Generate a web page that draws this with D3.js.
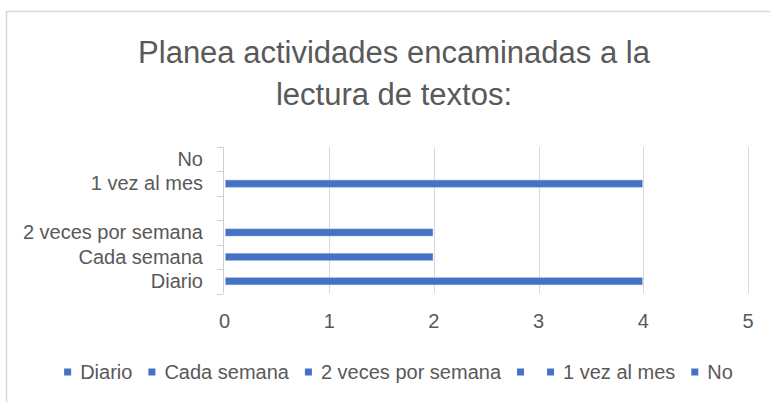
<!DOCTYPE html>
<html>
<head>
<meta charset="utf-8">
<script src="https://cdn.jsdelivr.net/npm/d3@7"></script>
<style>
  body { margin: 0; background: #fff; }
  svg { display: block; }
</style>
</head>
<body>
<svg id="chart" width="770" height="402"></svg>
<script>

var categories = ['Diario', 'Cada semana', '2 veces por semana', '', '1 vez al mes', 'No'];
var values = [4, 2, 2, 0, 4, 0];
var xTicks = [0, 1, 2, 3, 4, 5];
var titleLines = ['Planea actividades encaminadas a la', 'lectura de textos:'];

var width = 770, height = 402;
var textColor = '#595959';
var barColor = '#4472c4';
var font = '"Liberation Sans", Arial, sans-serif';

var svg = d3.select('#chart');

// chart frame
svg.append('rect')
  .attr('x', 6.5)
  .attr('y', 11.5)
  .attr('width', 790)
  .attr('height', 420)
  .attr('fill', '#fff')
  .attr('stroke', '#d9d9d9')
  .attr('stroke-width', 1.5);

// title
svg.append('g')
    .attr('text-anchor', 'middle')
    .attr('fill', textColor)
    .style('font', '31px ' + font)
  .selectAll('text')
  .data(titleLines)
  .enter().append('text')
    .attr('x', 394)
    .attr('y', (d, i) => 63 + i * 42)
    .text(d => d);

var x = d3.scaleLinear()
  .domain([0, 5])
  .range([224.5, 748]);

var y = d3.scaleBand()
  .domain(categories)
  .range([293.5, 147])
  .paddingInner(0.71)
  .paddingOuter(0.355);

var step = y.step();

// gridlines
svg.append('g')
  .selectAll('line')
  .data(xTicks.filter(d => d > 0))
  .enter().append('line')
    .attr('x1', d => Math.round(x(d)) + 0.5)
    .attr('x2', d => Math.round(x(d)) + 0.5)
    .attr('y1', 147)
    .attr('y2', 293.5)
    .attr('stroke', '#d9d9d9')
    .attr('stroke-width', 1);

// category axis line + ticks
var axisG = svg.append('g')
  .attr('stroke', '#d0d0d0')
  .attr('stroke-width', 1);

axisG.append('line')
  .attr('x1', 223.5).attr('x2', 223.5)
  .attr('y1', 147).attr('y2', 293.5);

var tickYs = categories.map(c => y(c) - (step - y.bandwidth()) / 2);
tickYs.push(293.5);

axisG.selectAll('line.tick')
  .data(tickYs)
  .enter().append('line')
    .attr('class', 'tick')
    .attr('x1', 217).attr('x2', 223.5)
    .attr('y1', d => Math.round(d) + 0.5)
    .attr('y2', d => Math.round(d) + 0.5);

// bars
svg.append('g')
  .selectAll('rect')
  .data(values)
  .enter().append('rect')
    .attr('x', x(0) + 1)
    .attr('y', (d, i) => y(categories[i]))
    .attr('width', d => Math.max(0, x(d) - x(0) - 2))
    .attr('height', y.bandwidth())
    .attr('fill', barColor)
    .attr('stroke', '#8faadc')
    .attr('stroke-width', 0.5)
    .style('display', d => d > 0 ? null : 'none');

// category labels
svg.append('g')
    .attr('text-anchor', 'end')
    .attr('fill', textColor)
    .style('font', '20px ' + font)
  .selectAll('text')
  .data(categories)
  .enter().append('text')
    .attr('x', 203)
    .attr('y', d => y(d) + y.bandwidth() / 2)
    .attr('dy', '0.34em')
    .text(d => d);

// value labels
svg.append('g')
    .attr('text-anchor', 'middle')
    .attr('fill', textColor)
    .style('font', '20px ' + font)
  .selectAll('text')
  .data(xTicks)
  .enter().append('text')
    .attr('x', d => x(d))
    .attr('y', 328)
    .text(d => d);

// legend
var legend = svg.append('g')
  .style('font', '20px ' + font)
  .attr('fill', textColor);

var items = legend.selectAll('g')
  .data(categories)
  .enter().append('g');

items.append('rect')
  .attr('width', 7)
  .attr('height', 7)
  .attr('y', 368.5)
  .attr('fill', barColor);

items.append('text')
  .attr('x', 16)
  .attr('y', 379)
  .text(d => d);

var pos = 0;
var offsets = [];
items.each(function(d) {
  offsets.push(pos);
  var w = d3.select(this).select('text').node().getComputedTextLength();
  pos += 16 + w + (w > 0 ? 16 : 14);
});
var total = pos - 16;
var start = 398.5 - total / 2;
items.attr('transform', (d, i) => `translate(${start + offsets[i]},0)`);

</script>
</body>
</html>
